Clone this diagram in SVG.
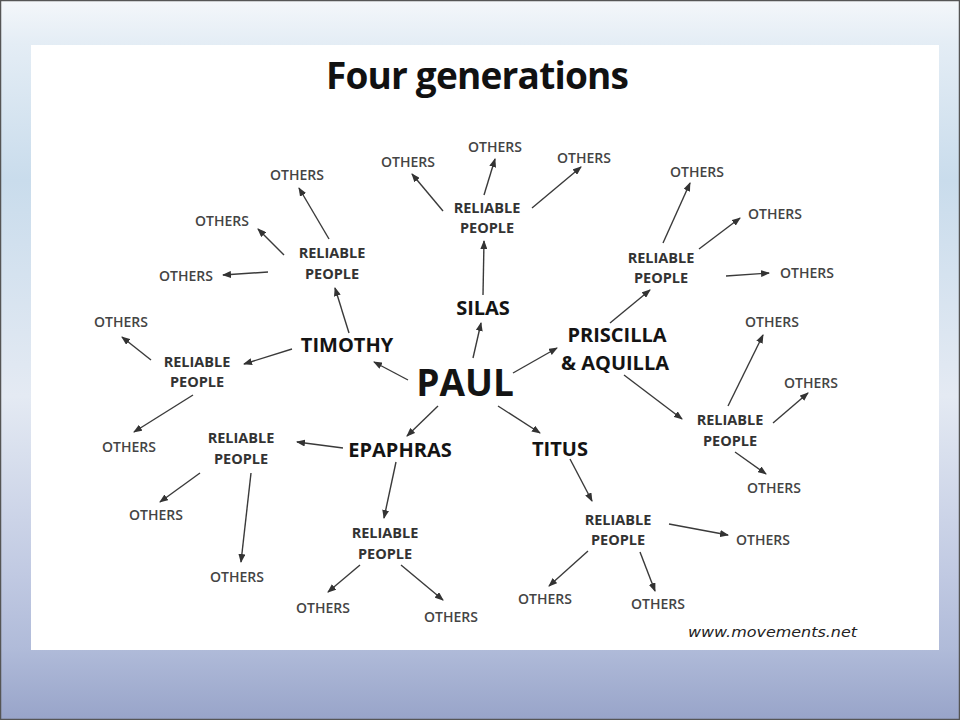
<svg xmlns="http://www.w3.org/2000/svg" width="960" height="720" viewBox="0 0 960 720">
<defs>
<linearGradient id="bg" x1="0" y1="0" x2="0" y2="1">
<stop offset="0" stop-color="#f4f7fa"/>
<stop offset="0.06" stop-color="#e4edf5"/>
<stop offset="0.25" stop-color="#c9dcec"/>
<stop offset="0.55" stop-color="#e4eaf3"/>
<stop offset="0.8" stop-color="#c0c9e2"/>
<stop offset="0.9" stop-color="#b0bbd9"/>
<stop offset="1" stop-color="#98a4c9"/>
</linearGradient>
<marker id="ah" markerUnits="userSpaceOnUse" markerWidth="9" markerHeight="7" refX="8" refY="3.5" orient="auto">
<path d="M0,0 L9,3.5 L0,7 z" fill="#333"/>
</marker>
</defs>
<style>
.name{font-family:"Open Sans","DejaVu Sans",sans-serif;font-weight:700;font-size:20px;fill:#141414;text-anchor:middle}
.big{font-size:37px}
.rp{font-family:"Open Sans","DejaVu Sans",sans-serif;font-weight:700;font-size:14.5px;fill:#333;text-anchor:middle}
.oth{font-family:"Open Sans","DejaVu Sans",sans-serif;font-weight:600;font-size:14px;fill:#444;text-anchor:middle}
.arr{stroke:#3a3a3a;stroke-width:1.4;fill:none;marker-end:url(#ah)}
</style>
<rect x="0" y="0" width="960" height="720" fill="url(#bg)"/>
<rect x="0.5" y="0.5" width="959" height="719" fill="none" stroke="#555" stroke-width="1.5"/>
<rect x="31" y="45" width="908" height="605" fill="#fff"/>
<text x="477" y="89" font-family="Open Sans, DejaVu Sans, sans-serif" font-weight="700" font-size="37" fill="#111" text-anchor="middle" letter-spacing="-0.8">Four generations</text>

<g id="connectors">
<line class="arr" x1="408" y1="380" x2="374" y2="362"/>
<line class="arr" x1="473" y1="358" x2="481" y2="323"/>
<line class="arr" x1="513" y1="373" x2="557" y2="348"/>
<line class="arr" x1="438" y1="406" x2="407" y2="436"/>
<line class="arr" x1="498" y1="406" x2="540" y2="433"/>
<line class="arr" x1="343" y1="448" x2="297" y2="442"/>
<line class="arr" x1="349" y1="333" x2="335" y2="288"/>
<line class="arr" x1="329" y1="239" x2="299" y2="188"/>
<line class="arr" x1="284" y1="255" x2="258" y2="229"/>
<line class="arr" x1="268" y1="272" x2="223" y2="275"/>
<line class="arr" x1="483" y1="295" x2="484" y2="241"/>
<line class="arr" x1="443" y1="211" x2="412" y2="174"/>
<line class="arr" x1="484" y1="195" x2="495" y2="159"/>
<line class="arr" x1="532" y1="208" x2="581" y2="167"/>
<line class="arr" x1="610" y1="323" x2="650" y2="290"/>
<line class="arr" x1="663" y1="243" x2="690" y2="183"/>
<line class="arr" x1="699" y1="249" x2="740" y2="218"/>
<line class="arr" x1="726" y1="276" x2="769" y2="273"/>
<line class="arr" x1="624" y1="375" x2="682" y2="419"/>
<line class="arr" x1="728" y1="406" x2="763" y2="335"/>
<line class="arr" x1="773" y1="423" x2="808" y2="393"/>
<line class="arr" x1="735" y1="452" x2="766" y2="474"/>
<line class="arr" x1="292" y1="349" x2="244" y2="364"/>
<line class="arr" x1="151" y1="360" x2="122" y2="337"/>
<line class="arr" x1="193" y1="395" x2="134" y2="432"/>
<line class="arr" x1="200" y1="473" x2="160" y2="502"/>
<line class="arr" x1="251" y1="473" x2="241" y2="562"/>
<line class="arr" x1="396" y1="462" x2="384" y2="518"/>
<line class="arr" x1="360" y1="565" x2="328" y2="592"/>
<line class="arr" x1="401" y1="565" x2="443" y2="600"/>
<line class="arr" x1="570" y1="459" x2="592" y2="501"/>
<line class="arr" x1="669" y1="524" x2="728" y2="535"/>
<line class="arr" x1="588" y1="551" x2="549" y2="586"/>
<line class="arr" x1="640" y1="552" x2="655" y2="591"/>
</g>

<g id="paul"><text class="name big" x="465" y="396">PAUL</text></g>
<g id="timothy"><text class="name" x="347" y="352">TIMOTHY</text></g>
<g id="silas"><text class="name" x="483" y="315">SILAS</text></g>
<g id="priscilla"><text class="name" x="617" y="342">PRISCILLA</text><text class="name" x="615" y="370">&amp; AQUILLA</text></g>
<g id="epaphras"><text class="name" x="400" y="457">EPAPHRAS</text></g>
<g id="titus"><text class="name" x="560" y="456">TITUS</text></g>

<g id="rp-timothy"><text class="rp" x="332" y="258">RELIABLE</text><text class="rp" x="332" y="279">PEOPLE</text></g>
<g id="rp-silas"><text class="rp" x="487" y="213">RELIABLE</text><text class="rp" x="487" y="233">PEOPLE</text></g>
<g id="rp-priscilla1"><text class="rp" x="661" y="263">RELIABLE</text><text class="rp" x="661" y="283">PEOPLE</text></g>
<g id="rp-priscilla2"><text class="rp" x="730" y="425">RELIABLE</text><text class="rp" x="730" y="446">PEOPLE</text></g>
<g id="rp-timothy2"><text class="rp" x="197" y="367">RELIABLE</text><text class="rp" x="197" y="387">PEOPLE</text></g>
<g id="rp-epaphras1"><text class="rp" x="241" y="443">RELIABLE</text><text class="rp" x="241" y="464">PEOPLE</text></g>
<g id="rp-epaphras2"><text class="rp" x="385" y="538">RELIABLE</text><text class="rp" x="385" y="559">PEOPLE</text></g>
<g id="rp-titus"><text class="rp" x="618" y="525">RELIABLE</text><text class="rp" x="618" y="545">PEOPLE</text></g>

<g id="others">
<text class="oth" x="297" y="180">OTHERS</text>
<text class="oth" x="222" y="226">OTHERS</text>
<text class="oth" x="186" y="281">OTHERS</text>
<text class="oth" x="408" y="167">OTHERS</text>
<text class="oth" x="495" y="152">OTHERS</text>
<text class="oth" x="584" y="163">OTHERS</text>
<text class="oth" x="697" y="177">OTHERS</text>
<text class="oth" x="775" y="219">OTHERS</text>
<text class="oth" x="807" y="278">OTHERS</text>
<text class="oth" x="772" y="327">OTHERS</text>
<text class="oth" x="811" y="388">OTHERS</text>
<text class="oth" x="774" y="493">OTHERS</text>
<text class="oth" x="121" y="327">OTHERS</text>
<text class="oth" x="129" y="452">OTHERS</text>
<text class="oth" x="156" y="520">OTHERS</text>
<text class="oth" x="237" y="582">OTHERS</text>
<text class="oth" x="323" y="613">OTHERS</text>
<text class="oth" x="451" y="622">OTHERS</text>
<text class="oth" x="545" y="604">OTHERS</text>
<text class="oth" x="658" y="609">OTHERS</text>
<text class="oth" x="763" y="545">OTHERS</text>
</g>
<text x="688" y="637" font-family="DejaVu Sans, sans-serif" font-style="italic" font-size="14" fill="#222" textLength="169" lengthAdjust="spacingAndGlyphs">www.movements.net</text>
</svg>
